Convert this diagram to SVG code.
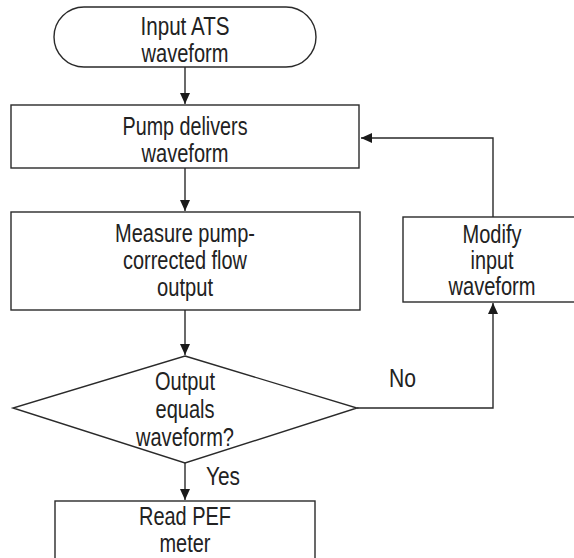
<svg xmlns="http://www.w3.org/2000/svg" width="574" height="558" viewBox="0 0 574 558">
<style>
.s{fill:#fff;stroke:#2a2a2a;stroke-width:1.4}
.t{font-family:"Liberation Sans",Arial,sans-serif;font-size:25px;fill:#222;text-anchor:middle}
.l{font-family:"Liberation Sans",Arial,sans-serif;font-size:25px;fill:#222}
.c{fill:none;stroke:#2a2a2a;stroke-width:1.4}
</style>
<defs>
<marker id="a" markerWidth="12" markerHeight="10" refX="11" refY="5" orient="auto" markerUnits="userSpaceOnUse">
<path d="M0,0 L11,5 L0,10 Z" fill="#1a1a1a"/>
</marker>
</defs>
<rect width="574" height="558" fill="#fff"/>
<g id="connectors">
<line class="c" x1="185" y1="67" x2="185" y2="104" marker-end="url(#a)"/>
<line class="c" x1="185" y1="168" x2="185" y2="211" marker-end="url(#a)"/>
<line class="c" x1="185" y1="310" x2="185" y2="355" marker-end="url(#a)"/>
<line class="c" x1="185" y1="463" x2="185" y2="500" marker-end="url(#a)"/>
<polyline class="c" points="357,408 493,408 493,303" marker-end="url(#a)"/>
<polyline class="c" points="493,217 493,138 361,138" marker-end="url(#a)"/>
<text class="l" x="206" y="485" textLength="34" lengthAdjust="spacingAndGlyphs">Yes</text>
<text class="l" x="389" y="387" textLength="27" lengthAdjust="spacingAndGlyphs">No</text>
</g>
<g id="start">
<rect class="s" x="54" y="7" width="262" height="60" rx="30" ry="30"/>
<text class="t" x="185" y="35" textLength="89" lengthAdjust="spacingAndGlyphs">Input ATS</text>
<text class="t" x="185" y="62" textLength="87" lengthAdjust="spacingAndGlyphs">waveform</text>
</g>
<g id="pump">
<rect class="s" x="11" y="105" width="348" height="63"/>
<text class="t" x="185" y="135" textLength="125" lengthAdjust="spacingAndGlyphs">Pump delivers</text>
<text class="t" x="185" y="162" textLength="87" lengthAdjust="spacingAndGlyphs">waveform</text>
</g>
<g id="measure">
<rect class="s" x="11" y="212" width="349" height="98"/>
<text class="t" x="185" y="242" textLength="140" lengthAdjust="spacingAndGlyphs">Measure pump-</text>
<text class="t" x="185" y="269" textLength="124" lengthAdjust="spacingAndGlyphs">corrected flow</text>
<text class="t" x="185" y="296" textLength="56" lengthAdjust="spacingAndGlyphs">output</text>
</g>
<g id="decision">
<polygon class="s" points="185,356 357,408 185,463 13,408"/>
<text class="t" x="185" y="390" textLength="60" lengthAdjust="spacingAndGlyphs">Output</text>
<text class="t" x="185" y="418" textLength="59" lengthAdjust="spacingAndGlyphs">equals</text>
<text class="t" x="185" y="446" textLength="98" lengthAdjust="spacingAndGlyphs">waveform?</text>
</g>
<g id="modify">
<rect class="s" x="403" y="217" width="185" height="85"/>
<text class="t" x="492" y="243" textLength="59" lengthAdjust="spacingAndGlyphs">Modify</text>
<text class="t" x="492" y="269" textLength="43" lengthAdjust="spacingAndGlyphs">input</text>
<text class="t" x="492" y="295" textLength="87" lengthAdjust="spacingAndGlyphs">waveform</text>
</g>
<g id="read">
<rect class="s" x="55" y="501" width="260" height="70"/>
<text class="t" x="185" y="525" textLength="92" lengthAdjust="spacingAndGlyphs">Read PEF</text>
<text class="t" x="185" y="552" textLength="51" lengthAdjust="spacingAndGlyphs">meter</text>
</g>
</svg>
